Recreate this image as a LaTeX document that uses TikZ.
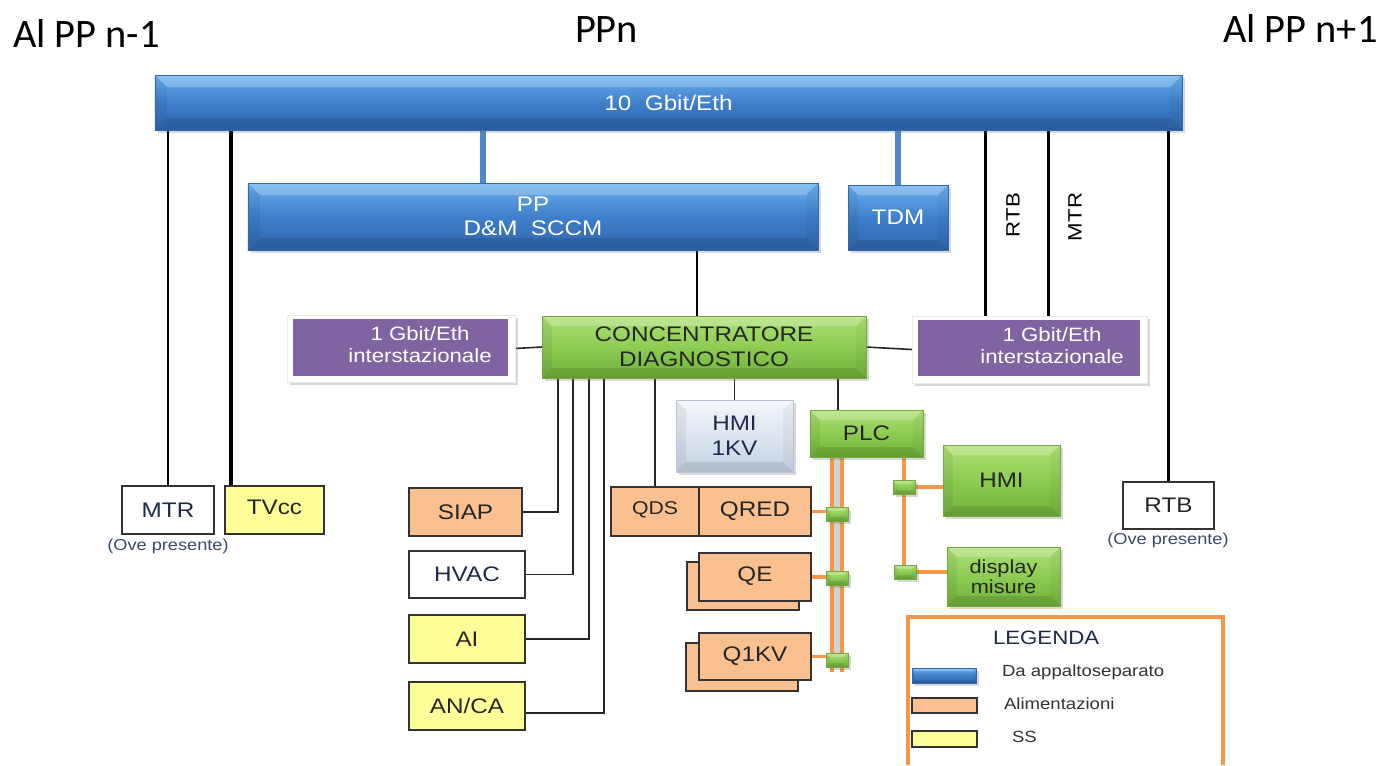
\documentclass[tikz,border=0pt]{standalone}
\usepackage{fontspec}
\setmainfont{Liberation Sans}[FakeStretch=1.15]
\newfontfamily\calib{Carlito}
\usetikzlibrary{calc,shadows}
\pgfdeclarelayer{back}\pgfdeclarelayer{bg}
\pgfsetlayers{back,bg,main}
\definecolor{bluetop}{HTML}{6AB0F0}
\definecolor{bluemid}{HTML}{3F7FCB}
\definecolor{bluebot}{HTML}{2F66AC}
\definecolor{blueedge}{HTML}{3568AA}
\definecolor{bluecon}{HTML}{4D88CF}
\definecolor{grtop}{HTML}{AEE074}
\definecolor{grmid}{HTML}{8DCC52}
\definecolor{grbot}{HTML}{70B13A}
\definecolor{gredge}{HTML}{74A845}
\definecolor{purp}{HTML}{8064A2}
\definecolor{peach}{HTML}{FAC08F}
\definecolor{yell}{HTML}{FFFF99}
\definecolor{orln}{HTML}{F79646}
\definecolor{edge}{HTML}{333333}
\definecolor{navy}{HTML}{1F2A4A}
\definecolor{ovec}{HTML}{3A4A6A}
\definecolor{slvtop}{HTML}{F2F5FA}
\definecolor{slvmid}{HTML}{DDE5F0}
\definecolor{slvbot}{HTML}{C5D2E4}
\definecolor{slvedge}{HTML}{B8C4D6}
\newcommand\fA{\fontsize{12}{14}\selectfont}
\newcommand\fP{\fontsize{11}{12.5}\selectfont}
\newcommand\fD{\fontsize{10.8}{11.5}\selectfont}
\newcommand\fQ{\fontsize{10.5}{12}\selectfont}
\newcommand\fS{\fontsize{9}{10}\selectfont}
\newcommand\fL{\fontsize{9.2}{11}\selectfont}
\newcommand\fG{\fontsize{11}{13}\selectfont}
\newcommand\fT{\calib\fontsize{23}{27}\selectfont}
\newcommand\mkbox[7]{%
  \pgfmathsetmacro\mbcx{(#3+#5)/2}%
  \pgfmathsetmacro\mbcy{(#4+#6)/2}%
  \pgfmathsetmacro\mbw{(#5-#3)*0.02}%
  \pgfmathsetmacro\mbh{(#6-#4)*0.02}%
  \node[#2, minimum width=\mbw cm, minimum height=\mbh cm] (#1) at (\mbcx,\mbcy) {#7};}
\tikzset{
 bev/.style={path picture={
  \fill[white,opacity=.22] (path picture bounding box.north west) -- (path picture bounding box.north east) -- ([shift={(-#1,#1)}]path picture bounding box.north east) -- ([shift={(#1,#1)}]path picture bounding box.north west) -- cycle;
  \fill[black,opacity=.06] (path picture bounding box.north west) -- ([shift={(#1,#1)}]path picture bounding box.north west) -- ([shift={(#1,-#1)}]path picture bounding box.south west) -- (path picture bounding box.south west) -- cycle;
  \fill[black,opacity=.10] (path picture bounding box.south west) -- ([shift={(#1,-#1)}]path picture bounding box.south west) -- ([shift={(-#1,-#1)}]path picture bounding box.south east) -- (path picture bounding box.south east) -- cycle;
  \fill[black,opacity=.04] (path picture bounding box.north east) -- ([shift={(-#1,#1)}]path picture bounding box.north east) -- ([shift={(-#1,-#1)}]path picture bounding box.south east) -- (path picture bounding box.south east) -- cycle;
 }},
 bev/.default=10,
 shd/.style={drop shadow={shadow xshift=1.5pt,shadow yshift=-1.5pt,opacity=.25,fill=black!60}},
 bluebox/.style={top color=bluetop,bottom color=bluebot,middle color=bluemid,draw=blueedge,line width=.3pt,bev=#1,text=white,font=\fA,shd,align=center},
 bluebox/.default=12,
 greenbox/.style={top color=grtop,bottom color=grbot,middle color=grmid,draw=gredge,line width=.3pt,bev=#1,text=black!85,font=\fA,shd,align=center},
 greenbox/.default=10,
 silverbox/.style={top color=slvtop,bottom color=slvbot,middle color=slvmid,draw=slvedge,line width=.3pt,bev=10,text=navy,font=\fA,shd,align=center},
 framebox/.style={fill=white,draw=black!8,shd},
 purpbox/.style={fill=purp},
 ptext/.style={text=white,font=\fP,align=center},
 pbox/.style={fill=peach,draw=edge,line width=1.1pt,font=\fA,text=black!85,align=center},
 ybox/.style={fill=yell,draw=edge,line width=1.1pt,font=\fA,text=black!85,align=center},
 wbox/.style={fill=white,draw=edge,line width=1.1pt,font=\fA,text=navy,align=center},
 thickblk/.style={draw=black,line width=1.7pt},
 thinblk/.style={draw=black!85,line width=0.9pt},
 blueln/.style={draw=bluecon,line width=3.4pt},
 orline/.style={draw=orln,line width=1.9pt},
 ove/.style={font=\fS,text=ovec},
 jn/.style={greenbox=4,minimum width=0.44cm,minimum height=0.28cm},
}
\begin{document}
\begin{tikzpicture}[x=0.02cm,y=-0.02cm,every node/.style={inner sep=0pt,outer sep=0pt}]
\begin{pgfonlayer}{back}
\fill[white] (0,0) rectangle (1387,765);
\end{pgfonlayer}
\useasboundingbox (0,0) rectangle (1387,765);

% top labels
\node[font=\fT,anchor=base west] (lnm) at (13,47) {Al PP n-1};
\node[font=\fT,anchor=base west] (ppn) at (575,42) {PPn};
\node[font=\fT,anchor=base west] (lnp) at (1223,42) {Al PP n+1};

% blue boxes
\mkbox{bar}{bluebox}{155}{75}{1182}{130}{10\ \ Gbit/Eth}
\mkbox{pp}{bluebox}{248}{183}{818}{250}{PP\\D\&M\ \ SCCM}
\mkbox{tdm}{bluebox=10}{848}{185}{948}{250}{TDM}

% purple boxes
\mkbox{lp}{framebox}{287}{315}{515}{382}{}
\mkbox{lpin}{purpbox}{293}{319}{508}{376}{}
\node[ptext] (lpt) at (420,345) {1 Gbit/Eth\\interstazionale};
\mkbox{rp}{framebox}{912}{316}{1147}{383}{}
\mkbox{rpin}{purpbox}{918}{320}{1140}{376}{}
\node[ptext] (rpt) at (1052,346) {1 Gbit/Eth\\interstazionale};

% concentratore
\mkbox{conc}{greenbox}{542}{316}{866}{378}{CONCENTRATORE\\DIAGNOSTICO}

% rotated labels
\node[rotate=90,font=\fG] (rtbl) at (1013,215) {RTB};
\node[rotate=90,font=\fG] (mtrl) at (1075,217) {MTR};

% left side boxes
\mkbox{mtr}{wbox}{122}{486}{214}{534}{MTR}
\node[ove] (ove1) at (168,546) {(Ove presente)};
\mkbox{tvcc}{ybox}{225}{486}{324}{534}{\raisebox{3pt}{TVcc}}
\mkbox{rtb}{wbox,text=black!85}{1123}{482}{1214}{529}{RTB}
\node[ove] (ove2) at (1168,540) {(Ove presente)};

% lower boxes
\mkbox{siap}{pbox}{409}{488}{522}{536}{SIAP}
\mkbox{hvac}{wbox}{409}{551}{525}{598}{HVAC}
\mkbox{ai}{ybox}{409}{615}{525}{663}{AI}
\mkbox{anca}{ybox}{409}{682}{525}{730}{AN/CA}

\mkbox{qds}{pbox,font=\fQ}{611}{487}{699}{536}{\raisebox{4pt}{QDS}}
\mkbox{qred}{pbox}{699}{487}{811}{536}{QRED}
\mkbox{qeb}{pbox}{687}{562}{799}{610}{}
\mkbox{qef}{pbox}{699}{553}{811}{601}{\raisebox{3pt}{QE}}
\mkbox{q1b}{pbox}{686}{643}{798}{691}{}
\mkbox{q1f}{pbox}{699}{633}{811}{680}{\raisebox{3pt}{Q1KV}}

\mkbox{hmik}{silverbox}{676}{400}{793}{472}{HMI\\1KV}
\mkbox{plc}{greenbox}{810}{410}{923}{457}{PLC}
\mkbox{hmig}{greenbox}{943}{445}{1060}{516}{HMI}
\mkbox{disp}{greenbox,font=\fD}{947}{547}{1060}{606}{display\\misure}

% junctions
\node[jn] (j1) at (837,514) {};
\node[jn] (j2) at (837,578) {};
\node[jn] (j3) at (837,660) {};
\node[jn] (j4) at (904,487) {};
\node[jn] (j5) at (905,572) {};

% legend
\draw[orline,line width=1.8pt] (908,765) -- (908,617) -- (1223,617) -- (1223,765);
\node[font=\fG,text=navy,anchor=west] (leg) at (993,638) {LEGENDA};
\mkbox{lgb}{bluebox=3}{912}{668}{976}{683}{}
\mkbox{lgo}{pbox}{912}{698}{977}{713}{}
\mkbox{lgy}{ybox}{912}{731}{977}{747}{}
\node[font=\fL,text=black!80,anchor=west] (lgbt) at (1002,672) {Da appaltoseparato};
\node[font=\fL,text=black!80,anchor=west] (lgot) at (1004,704) {Alimentazioni};
\node[font=\fL,text=black!80,anchor=west] (lgyt) at (1012,737) {SS};

% connectors
\begin{pgfonlayer}{bg}
\draw[thickblk] (mtr.north) -- (mtr.north |- bar.south);
\draw[thickblk,line width=2.8pt] (tvcc.north west) ++(6,0) coordinate (tv1) -- ([yshift=4pt]tv1 |- bar.south);
\draw[blueln] (pp.north west) ++(235,0) coordinate (b1) -- (b1 |- bar.south);
\draw[blueln] (tdm.north) -- (tdm.north |- bar.south);
\draw[thickblk] (rp.north west) ++(73,0) coordinate (r1) -- (r1 |- bar.south);
\draw[thickblk] (rp.north west) ++(136,0) coordinate (r2) -- (r2 |- bar.south);
\draw[thickblk] (rtb.north) -- (rtb.north |- bar.south);
\draw[thickblk] (conc.north west) ++(155,0) coordinate (c0) -- (c0 |- pp.south);
\draw[thinblk] (lp.east) -- (conc.west);
\draw[thinblk] (conc.east) -- (rp.west);
\draw[thinblk] (conc.south west) ++(16,0) |- (siap.east);
\draw[thinblk] (conc.south west) ++(31,0) |- (hvac.east);
\draw[thinblk] (conc.south west) ++(47,0) |- (ai.east);
\draw[thinblk] (conc.south west) ++(62,0) |- ($(anca.east)+(0,7)$);
\draw[thinblk] (qds.north) -- (qds.north |- conc.south);
\draw[thinblk] (hmik.north) -- (hmik.north |- conc.south);
\draw[thinblk] (plc.north west) ++(28,0) coordinate (pl1) -- (pl1 |- conc.south);
% PLC bus
\coordinate (busL) at ($(plc.south west)+(22,0)$);
\coordinate (busR) at ($(plc.south west)+(32,0)$);
\coordinate (busM) at ($(plc.south west)+(28,0)$);
\draw[draw=black!18,line width=4pt] (busM) -- (busM |- j3.south);
\draw[orline] (busL) -- ([yshift=-3pt]busL |- j3.south);
\draw[orline] (busR) -- ([yshift=-3pt]busR |- j3.south);
\draw[orline] (qred.east) -- (qred.east -| j1.west);
\draw[orline] (qef.east) -- (qef.east -| j2.west);
\draw[orline] (q1f.east) -- (q1f.east -| j3.west);
\coordinate (busR2) at ($(plc.south west)+(94,0)$);
\draw[orline] (busR2) -- (busR2 |- j5.center);
\draw[orline] (j4.east) -- (j4.east -| hmig.west);
\draw[orline] (j5.east) -- (j5.east -| disp.west);
\end{pgfonlayer}
\end{tikzpicture}
\end{document}
